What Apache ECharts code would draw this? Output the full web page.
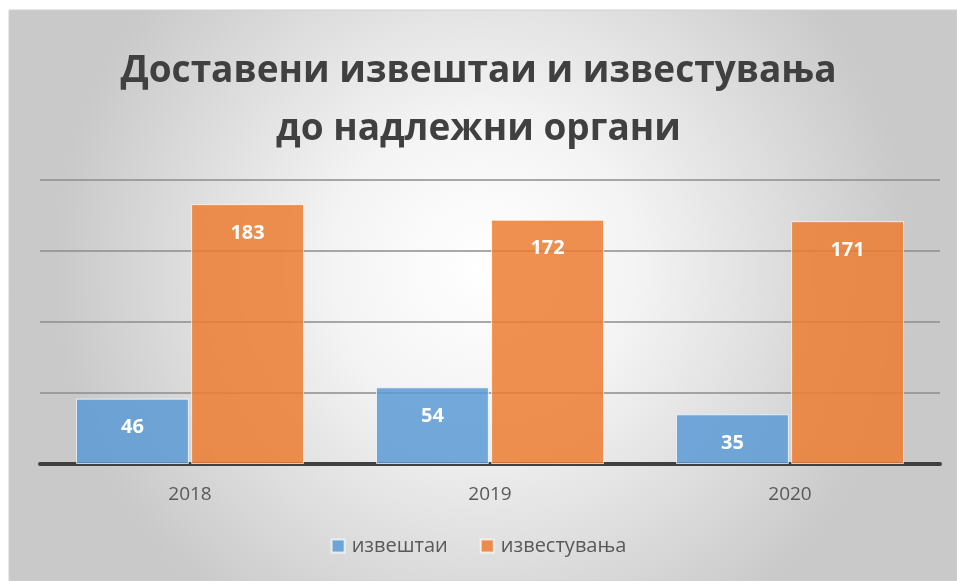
<!DOCTYPE html>
<html>
<head>
<meta charset="utf-8">
<script src="https://cdn.jsdelivr.net/npm/echarts@6/dist/echarts.min.js"></script>
<style>
  html, body { margin: 0; padding: 0; background: #fff; }
  #chart { width: 957px; height: 581px; }
</style>
</head>
<body>
<div id="chart"></div>
<script>
// податоци од графиконот
const years = ['2018', '2019', '2020'];
const izvestai = [46, 54, 35];
const izvestuvanja = [183, 172, 171];
const seriesNames = ['извештаи', 'известувања'];

const myChart = echarts.init(document.getElementById('chart'));

const labelStyle = {
    show: true,
    position: 'insideTop',
    distance: 19,
    color: '#fff',
    fontWeight: 'bold',
    fontSize: 20,
    fontFamily: 'Open Sans'
};

let option = {
    backgroundColor: '#fff',
    graphic: [{
        type: 'rect',
        z: -10,
        shape: { x: 9, y: 10, width: 948, height: 571 },
        style: {
            fill: new echarts.graphic.RadialGradient(0.5, 0.45, 0.75, [
                { offset: 0, color: '#ffffff' },
                { offset: 0.35, color: '#f4f4f4' },
                { offset: 1, color: '#c9c9c9' }
            ]),
            stroke: '#d0d0d0'
        }
    }],
    title: {
        text: 'Доставени извештаи и известувања\nдо надлежни органи',
        left: 'center',
        top: 37,
        textStyle: {
            color: '#404040',
            fontSize: 37,
            fontWeight: 'bold',
            fontFamily: 'Open Sans',
            lineHeight: 58
        }
    },
    legend: {
        bottom: 20,
        left: 'center',
        itemWidth: 13,
        itemHeight: 13,
        itemGap: 32,
        icon: 'rect',
        textStyle: { color: '#595959', fontSize: 20, fontFamily: 'Open Sans', padding: [0, 0, 0, 2] },
        data: seriesNames
    },
    grid: { left: 40, right: 17, top: 180, bottom: 117 },
    xAxis: {
        type: 'category',
        data: years,
        axisTick: { show: false },
        axisLine: { lineStyle: { color: '#404040', width: 4 } },
        axisLabel: { color: '#595959', fontSize: 19, fontFamily: 'Open Sans', margin: 21 }
    },
    yAxis: {
        type: 'value',
        min: 0,
        max: 200,
        interval: 50,
        axisLabel: { show: false },
        axisLine: { show: false },
        axisTick: { show: false },
        splitLine: { lineStyle: { color: '#8c8c8c', width: 1.5 } }
    },
    series: [
        {
            name: seriesNames[0],
            type: 'bar',
            data: izvestai,
            barGap: '2%',
            barCategoryGap: '24%',
            itemStyle: { color: 'rgba(91,155,213,0.85)', borderColor: 'rgba(255,255,255,0.7)', borderWidth: 1 },
            label: labelStyle
        },
        {
            name: seriesNames[1],
            type: 'bar',
            data: izvestuvanja,
            itemStyle: { color: 'rgba(237,125,49,0.85)', borderColor: 'rgba(255,255,255,0.7)', borderWidth: 1 },
            label: labelStyle
        }
    ]
};

myChart.setOption(option);
</script>
</body>
</html>
